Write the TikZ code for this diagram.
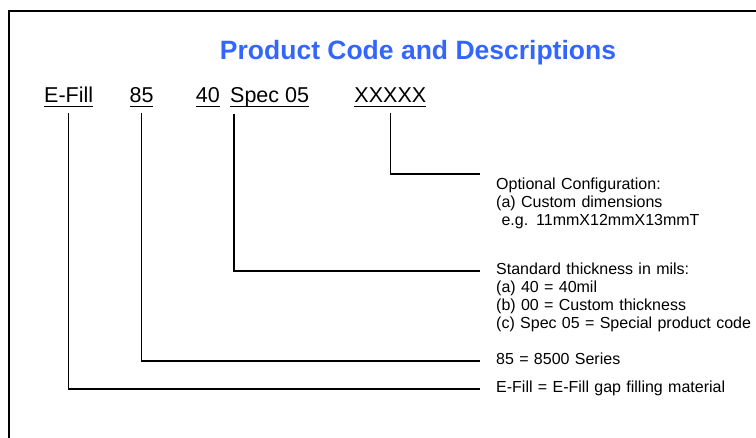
\documentclass[tikz,border=0pt]{standalone}
\usepackage{fontspec}
\setmainfont{Liberation Sans}
\usepackage{xcolor}
\usetikzlibrary{positioning}
\definecolor{titleblue}{RGB}{51,102,255}
\newcommand{\codeul}[1]{\setbox0\hbox{#1}\rlap{\rule[-4pt]{\wd0}{1.4pt}}\box0}

\begin{document}
\begin{tikzpicture}[
      x=1pt, y=-1pt,
      title/.style={anchor=base, inner sep=0, text=titleblue, font={\bfseries\fontsize{26.5}{30}\selectfont}},
      code/.style={anchor=base west, inner sep=0, font={\fontsize{21.5}{24}\selectfont}},
      desc/.style={anchor=base west, inner sep=0, text width=320pt, align=left, font={\fontsize{16}{18}\selectfont}},
      leader/.style={draw, line width=1.5pt},
      frame/.style={draw, line width=1.8pt}
  ]
  \useasboundingbox (0,0) rectangle (756,438);
  \clip (0,0) rectangle (756,438);
  \path[frame] (9,11) rectangle (800,480);

  \node[title] (head) at (418,60) {Product Code and Descriptions};

  % the code itself
  \node[code] (efill) at (44,103) {\codeul{E-Fill}};
  \node[code, base right=36pt of efill] (series) {\codeul{85}};
  \node[code, base right=42pt of series] (thick) {\codeul{40}};
  \node[code, base right=10pt of thick] (spec) {\codeul{Spec 05}};
  \node[code, base right=45pt of spec] (config) {\codeul{XXXXX}};

  % elbows of the leaders
  \coordinate (c1) at (480,174);
  \coordinate (c2) at (480,271);
  \coordinate (c3) at (480,361);
  \coordinate (c4) at (480,389);

  \node[desc] (dconfig) at ([shift={(16,16)}]c1) {Optional Configuration:\\(a) Custom dimensions\\ \ e.g. 11mmX12mmX13mmT};
  \node[desc] (dthick) at ([shift={(16,4)}]c2) {Standard thickness in mils:\\(a) 40 = 40mil\\(b) 00 = Custom thickness\\(c) Spec 05 = Special product code};
  \node[desc] (dseries) at ([shift={(16,3.5)}]c3) {85 = 8500 Series};
  \node[desc] (defill) at ([shift={(16,3.5)}]c4) {E-Fill = E-Fill gap filling material};

  \draw[leader] ([yshift=-6pt]config.south) |- (c1);
  \draw[leader] ([xshift=4pt,yshift=-6pt]spec.south west) |- (c2);
  \draw[leader] ([yshift=-6pt]series.south) |- (c3);
  \draw[leader] ([yshift=-6pt]efill.south) |- (c4);
\end{tikzpicture}
\end{document}
